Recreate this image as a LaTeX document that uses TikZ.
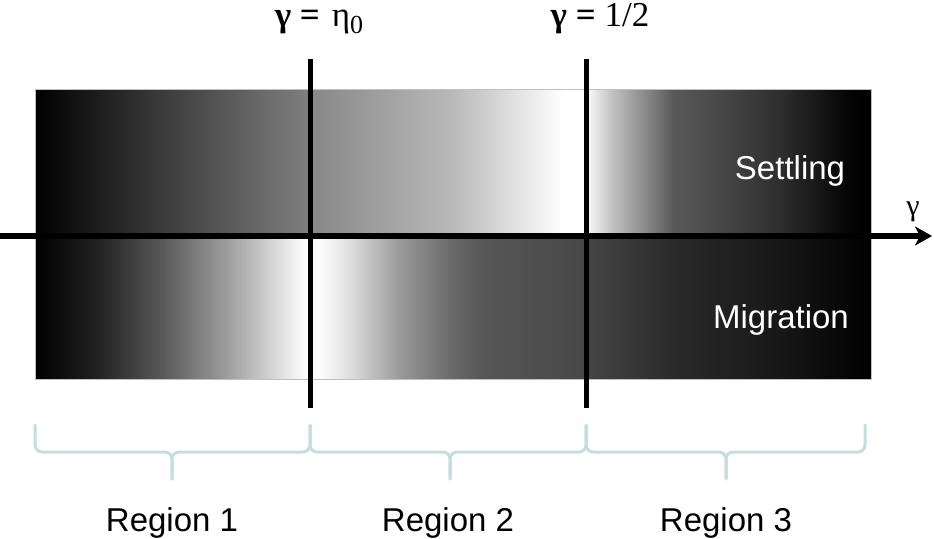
\documentclass[tikz,border=0pt]{standalone}
\usepackage{fontspec}
\setmainfont{Liberation Sans}
\newfontfamily\serifgreek{Liberation Serif}
\usetikzlibrary{arrows.meta}
\definecolor{bracecol}{RGB}{195,222,226}
\pgfdeclarehorizontalshading{topone}{100bp}{color(0bp)=(black); color(25bp)=(black); color(75bp)=(black!50); color(100bp)=(black!50)}
\pgfdeclarehorizontalshading{toptwo}{100bp}{color(0bp)=(black!47); color(25bp)=(black!47); color(50.4bp)=(black!28); color(70.8bp)=(white); color(100bp)=(white)}
\pgfdeclarehorizontalshading{topthree}{100bp}{color(0bp)=(black!3); color(25.35bp)=(black!3); color(29.74bp)=(black!25); color(35.7bp)=(black!47); color(40.26bp)=(black!65); color(47.28bp)=(black!71); color(59.04bp)=(black!82); color(70.79bp)=(black!98); color(75bp)=(black); color(100bp)=(black)}
\pgfdeclarehorizontalshading{botone}{100bp}{color(0bp)=(black); color(25bp)=(black); color(36.27bp)=(black!87); color(48.27bp)=(black!65); color(60.45bp)=(black!37); color(73.18bp)=(black!3); color(75bp)=(white); color(100bp)=(white)}
\pgfdeclarehorizontalshading{bottwo}{100bp}{color(0bp)=(white); color(26.27bp)=(white); color(32.25bp)=(black!13); color(41.3bp)=(black!40); color(50.36bp)=(black!58); color(56.34bp)=(black!66); color(65.4bp)=(black!69); color(75bp)=(black!72); color(100bp)=(black!72)}
\pgfdeclarehorizontalshading{botthree}{100bp}{color(0bp)=(black!73); color(25bp)=(black!73); color(41.49bp)=(black!84); color(59.04bp)=(black!91); color(71.32bp)=(black!98); color(75bp)=(black); color(100bp)=(black)}
\tikzset{
  sanslabel/.style={font=\fontsize{33}{36}\selectfont, anchor=base, inner sep=0pt},
  whitelabel/.style={sanslabel, text=white},
  greeklabel/.style={font=\serifgreek\fontsize{35}{38}\selectfont, anchor=base, inner sep=0pt},
  divider/.style={line width=5pt, black},
  bracepath/.style={line width=3pt, bracecol, rounded corners=7pt, line cap=round},
}
\begin{document}
\begin{tikzpicture}[x=1pt,y=-1pt]
\useasboundingbox (0,0) rectangle (934,538);
% gradient blocks
\shade[shading=topone]   (35,89)  rectangle (310,236);
\shade[shading=toptwo]   (310,89) rectangle (586,236);
\shade[shading=topthree] (586,89) rectangle (871,236);
\shade[shading=botone]   (35,236) rectangle (310,379);
\shade[shading=bottwo]   (310,236) rectangle (586,379);
\shade[shading=botthree] (586,236) rectangle (871,379);
\draw[black!25, line width=0.6pt] (35,89) rectangle (871,379);
% coordinates
\coordinate (axl) at (0,236);
\coordinate (axr) at (932,236);
\coordinate (v1t) at (310,59);
\coordinate (v1b) at (310,408);
\coordinate (v2t) at (586,59);
\coordinate (v2b) at (586,408);
% dividers and axis
\draw[divider] (v1t) -- (v1b);
\draw[divider] (v2t) -- (v2b);
\draw[line width=5.5pt, -{Stealth[length=17pt,width=19pt,inset=5pt]}] (axl) -- (axr);
% labels
\node[greeklabel] (lab1) at (319,27) {\textbf{γ =}\hspace{12pt}η\raisebox{-6pt}{\fontsize{26}{26}\selectfont 0}};
\node[greeklabel] (lab2) at (600,27) {\textbf{γ =} 1/2};
\node[greeklabel, font=\serifgreek\fontsize{30}{32}\selectfont] (gax) at (913,215) {γ};
\node[whitelabel] (settl) at (790,179) {Settling};
\node[whitelabel] (migr) at (781,328) {Migration};
% braces
\coordinate (b1l) at (35,425);  \coordinate (b1r) at (310,425);  \coordinate (b1m) at (172,479);
\coordinate (b2l) at (310,425); \coordinate (b2r) at (586,425);  \coordinate (b2m) at (450,479);
\coordinate (b3l) at (586,425); \coordinate (b3r) at (865,425);  \coordinate (b3m) at (726,479);
\foreach \l/\r/\m in {b1l/b1r/b1m, b2l/b2r/b2m, b3l/b3r/b3m}{
  \draw[bracepath] (\l) -- (\l |- 0,452) -- (\m |- 0,452) -- (\m);
  \draw[bracepath] (\r) -- (\r |- 0,452) -- (\m |- 0,452) -- (\m);
}
\node[sanslabel] (r1) at (172,531) {Region 1};
\node[sanslabel] (r2) at (448,531) {Region 2};
\node[sanslabel] (r3) at (726,531) {Region 3};
\end{tikzpicture}
\end{document}
